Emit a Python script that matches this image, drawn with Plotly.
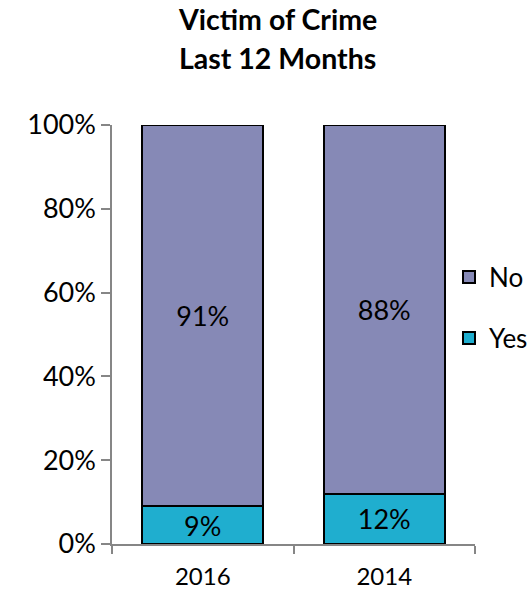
import plotly.graph_objects as go

# Survey responses, share of respondents
years = ["2016", "2014"]
yes_share = [0.09, 0.12]
no_share = [0.91, 0.88]
yes_labels = ["9%", "12%"]
no_labels = ["91%", "88%"]
title_lines = ["Victim of Crime", "Last 12 Months"]

FONT = "Lato, Calibri, Carlito, sans-serif"
YES_COLOR = "#1FAECF"
NO_COLOR = "#8689B6"

fig = go.Figure()
fig.add_trace(go.Bar(
    x=years, y=yes_share, name="Yes", text=yes_labels,
    legendgroup="yes", legendrank=2,
    marker=dict(color=YES_COLOR, line=dict(color="black", width=2)),
    textposition="inside", insidetextanchor="middle", textangle=0,
    insidetextfont=dict(family=FONT, size=27, color="black"),
    constraintext="none", width=0.667,
))
fig.add_trace(go.Bar(
    x=years, y=no_share, name="No", text=no_labels,
    legendgroup="no", legendrank=1,
    marker=dict(color=NO_COLOR, line=dict(color="black", width=2)),
    textposition="inside", insidetextanchor="middle", textangle=0,
    insidetextfont=dict(family=FONT, size=27, color="black"),
    constraintext="none", width=0.667,
))

fig.update_layout(
    barmode="stack",
    width=532, height=596,
    margin=dict(l=112, r=57, t=125, b=52, autoexpand=False),
    paper_bgcolor="white", plot_bgcolor="white",
    font=dict(family=FONT, size=26, color="black"),
    legend=dict(
        x=(449 - 112) / 363, xanchor="left", y=0.564, yanchor="middle",
        traceorder="grouped", tracegroupgap=24,
        font=dict(family=FONT, size=26, color="black"),
        bgcolor="rgba(0,0,0,0)", itemwidth=30,
    ),
    showlegend=True,
)
for line, ypix in zip(title_lines, [19, 58]):
    fig.add_annotation(
        text=f"<b>{line}</b>",
        xref="paper", yref="paper", x=(277 - 112) / 363, y=(544 - ypix) / 419,
        xanchor="center", yanchor="middle", showarrow=False,
        font=dict(family=FONT, size=28.5, color="black"),
    )
fig.update_xaxes(
    showline=True, linecolor="#868686", linewidth=1.5,
    ticks="outside", ticklen=8, tickcolor="#868686", tickwidth=1.5,
    tickson="boundaries", showgrid=False, ticklabelstandoff=10,
    tickfont=dict(family=FONT, size=24, color="black"),
)
fig.update_yaxes(
    range=[0, 1], dtick=0.2, tickformat=".0%",
    showline=True, linecolor="#868686", linewidth=1.5,
    ticks="outside", ticklen=9, tickcolor="#868686", tickwidth=1.5,
    showgrid=False, zeroline=False,
    tickfont=dict(family=FONT, size=27, color="black"),
)

fig.write_html("out.html")
